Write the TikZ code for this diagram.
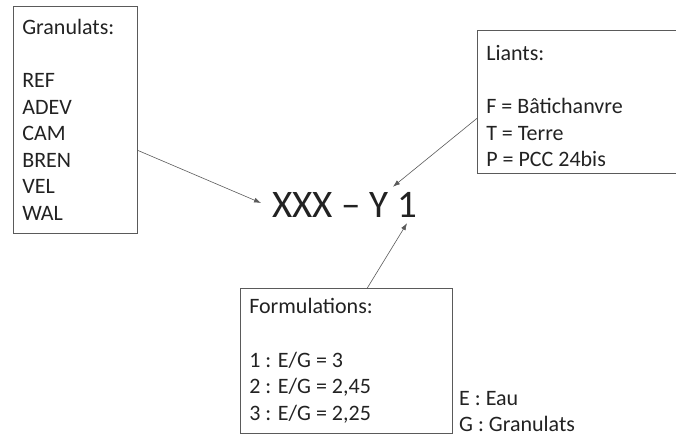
\documentclass[tikz,border=0pt]{standalone}
\usepackage{fontspec}
\setmainfont{Carlito}
\usetikzlibrary{arrows.meta}
\tikzset{>={Latex[length=7pt,width=5pt]}}
\definecolor{boxline}{HTML}{5A5A5A}
\definecolor{ink}{HTML}{222222}
\tikzset{
  legendbox/.style={draw=boxline,line width=0.6pt,text=ink,align=flush left,
    inner xsep=9pt,inner ysep=0pt,font=\fontsize{22}{26.6}\selectfont,anchor=north west},
  pointer/.style={->,draw=boxline,line width=0.6pt},
}

\begin{document}
\begin{tikzpicture}[x=1pt,y=-1pt]
\useasboundingbox (0,0) rectangle (676,437);
\clip (0,0) rectangle (676,437);
% the three legend boxes
\node[legendbox,text width=106pt,minimum height=227pt] (gran) at (13,6)
  {Granulats:\\[26.6pt]REF\\ADEV\\CAM\\BREN\\VEL\\WAL};
\node[legendbox,text width=197pt,minimum height=143pt] (liant) at (477,30)
  {\rule{0pt}{23.5pt}Liants:\\[26.6pt]F = Bâtichanvre\\T = Terre\\P = PCC 24bis};
\node[legendbox,text width=194pt,minimum height=145pt] (form) at (240,288)
  {Formulations:\\[26.6pt]1 : E/G = 3\\2 : E/G = 2,45\\3 : E/G = 2,25};
% the code
\node[font=\fontsize{39}{47}\selectfont,text=ink,inner xsep=11pt,inner ysep=6pt,
  anchor=base west] (code) at (261,217) {XXX – Y 1};
\node[font=\fontsize{22}{26.6}\selectfont,text=ink,align=left,inner sep=0pt,
  anchor=north west] (note) at (459,391) {E : Eau\\G : Granulats};
\draw[pointer] ([yshift=-30.5pt]gran.east) -- ([yshift=1.5pt]code.west);
\draw[pointer] ([yshift=-16.5pt]liant.west) -- ([xshift=132pt,yshift=-1pt]code.north west);
\draw[pointer] ([xshift=21pt]form.north) -- ([xshift=146pt]code.south west);
\end{tikzpicture}
\end{document}
